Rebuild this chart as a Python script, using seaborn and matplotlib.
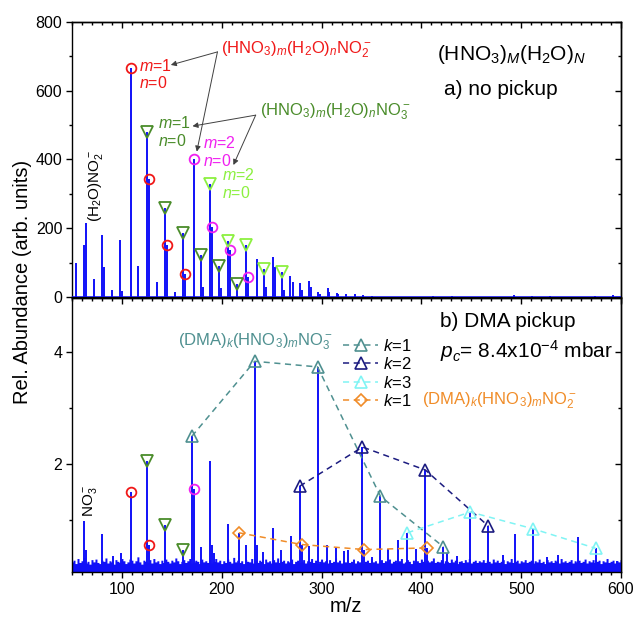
import matplotlib
matplotlib.use("Agg")
import matplotlib.pyplot as plt
from matplotlib.ticker import MultipleLocator
import numpy as np
import seaborn as sns

sns.set_theme(style="ticks", rc={"axes.edgecolor": "black", "text.color": "black",
                                 "xtick.color": "black", "ytick.color": "black",
                                 "axes.labelcolor": "black", "axes.linewidth": 1.0})
plt.rcParams["font.family"] = ["Liberation Sans", "DejaVu Sans"]
plt.rcParams["mathtext.fontset"] = "custom"
plt.rcParams["mathtext.rm"] = "Liberation Sans"
plt.rcParams["mathtext.it"] = "Liberation Sans:italic"
plt.rcParams["mathtext.bf"] = "Liberation Sans:bold"

# ---- a) no pickup : stick spectrum (m/z, counts)
top_mz = [54, 62, 64, 72, 80, 82, 90, 98, 100, 109, 116, 125, 127, 135, 143, 145, 153, 161, 163, 172,
          179, 181, 188, 190, 197, 199, 206, 208, 215, 224, 226, 235, 242, 244, 251, 253, 260, 262, 268, 271,
          278, 280, 287, 289, 296, 298, 306, 307, 315, 316, 324, 333, 342, 351, 412, 431, 493, 511, 529, 574,
          592]
top_int = [98, 150, 215, 52, 179, 86, 20, 166, 16, 665, 91, 481, 343, 44, 260, 152, 15, 185, 68, 400,
           123, 30, 330, 203, 91, 25, 162, 137, 39, 152, 59, 111, 81, 30, 117, 86, 72, 20, 61, 45,
           40, 20, 47, 29, 15, 8, 26, 15, 13, 8, 10, 8, 6, 4, 3, 3, 6, 4, 3, 4,
           5]

# marked series, panel a
a_no2_m1_mz = [109, 127, 145, 163]
a_no2_m1_int = [665, 343, 152, 68]
a_no2_m2_mz = [172, 190, 208, 226]
a_no2_m2_int = [400, 203, 137, 59]
a_no3_m1_mz = [125, 143, 161, 179, 197, 215]
a_no3_m1_int = [481, 260, 185, 123, 91, 39]
a_no3_m2_mz = [188, 206, 224, 242, 260]
a_no3_m2_int = [330, 162, 152, 81, 72]

# ---- b) DMA pickup : stick spectrum (m/z, rel. abundance)
bot_mz = [62, 64, 80, 91, 99, 109, 125, 127, 143, 161, 170, 172, 179, 188, 190, 192, 206, 217, 224, 233,
          235, 241, 251, 259, 269, 278, 280, 287, 296, 305, 314, 322, 326, 341, 343, 351, 359, 367, 377, 386,
          395, 404, 406, 422, 426, 436, 449, 467, 482, 494, 512, 526, 537, 557, 575, 596]
bot_int = [0.98, 0.47, 0.75, 0.35, 0.40, 1.50, 2.05, 0.55, 0.90, 0.47, 2.49, 1.55, 0.52, 2.05, 0.56, 0.41,
           0.93, 0.77, 0.56, 3.83, 0.56, 0.43, 0.86, 0.46, 0.71, 1.60, 0.56, 0.53, 3.73, 0.55, 0.50, 0.45,
           0.46, 2.30, 0.47, 0.34, 1.42, 0.48, 0.64, 0.77, 0.48, 1.89, 0.50, 0.52, 0.41, 0.36, 1.14, 0.89,
           0.38, 0.74, 0.84, 0.34, 0.38, 0.70, 0.49, 0.27]

# noise floor of panel b, every 2 m/z from 50 to 600 (in 1/100 units)
noise_level = [
    25, 28, 22, 31, 24, 27, 33, 23, 26, 21, 29, 25, 30, 24, 22, 28, 26, 32, 23, 27, 25, 21, 29,
    26, 24, 31, 27, 22, 25, 30, 28, 23, 27, 34, 25, 21, 28, 26, 24, 29, 23, 31, 25, 27, 22, 28,
    24, 30, 26, 23, 28, 25, 32, 27, 22, 26, 29, 24, 27, 31, 23, 25, 28, 26, 22, 30, 25, 27, 24,
    29, 23, 26, 31, 25, 28, 22, 27, 24, 30, 26, 23, 33, 25, 28, 24, 27, 22, 29, 26, 25, 31, 23,
    27, 24, 28, 26, 22, 30, 25, 27, 23, 29, 25, 32, 24, 26, 28, 23, 27, 25, 30, 22, 26, 28, 24,
    25, 29, 23, 27, 26, 31, 24, 28, 22, 26, 30, 25, 27, 23, 29, 24, 26, 32, 25, 28, 23, 27, 25,
    28, 24, 26, 30, 23, 27, 25, 29, 22, 26, 28, 24, 31, 25, 27, 23, 26, 29, 24, 27, 25, 30, 23,
    26, 28, 24, 27, 31, 23, 25, 29, 26, 22, 28, 25, 27, 24, 30, 26, 23, 28, 25, 27, 32, 24, 26,
    25, 29, 23, 27, 26, 24, 30, 25, 28, 22, 26, 27, 24, 29, 25, 31, 23, 26, 28, 24, 27, 25, 29,
    24, 27, 26, 23, 30, 25, 28, 24, 26, 29, 22, 27, 25, 31, 24, 26, 28, 23, 27, 25, 29, 24, 26,
    28, 23, 27, 25, 30, 24, 26, 22, 29, 25, 27, 24, 28, 26, 23, 31, 25, 27, 24, 26, 29, 23, 27,
    25, 28, 24, 26, 30, 23, 27, 25, 29, 24, 26, 28, 22, 27, 25, 31, 24, 26, 28, 23, 27, 25, 29]
noise_mz = np.arange(50, 601, 2)

# marked series, panel b
b_no2_m1_mz = [109, 127]
b_no2_m1_int = [1.50, 0.55]
b_no3_m1_mz = [125, 143, 161]
b_no3_m1_int = [2.05, 0.90, 0.47]
b_no2_m2_mz = [172]
b_no2_m2_int = [1.55]
k1_mz = [170, 233, 296, 359, 422]
k1_int = [2.49, 3.83, 3.73, 1.42, 0.52]
k2_mz = [278, 341, 404, 467]
k2_int = [1.60, 2.30, 1.89, 0.89]
k3_mz = [386, 449, 512, 575]
k3_int = [0.77, 1.14, 0.84, 0.49]
k1_no2_mz = [217, 280, 343, 406]
k1_no2_int = [0.77, 0.56, 0.47, 0.50]

BLUE = "#1010f8"
RED = "#f01818"
MAGENTA = "#f020f0"
DKGREEN = "#4a8c2a"
LTGREEN = "#8cf040"
TEAL = "#4f9090"
NAVY = "#1c1c80"
CYAN = "#80f4f4"
ORANGE = "#f08c28"
DASH = (0, (4, 3))


def open_markers(ax, x, y, marker, color, size):
    sns.lineplot(x=x, y=y, ax=ax, marker=marker, linestyle="none", mfc="none", mec=color,
                 ms=size, mew=1.3, errorbar=None, zorder=4)


def style_axis(ax, ymajor, yminor):
    ax.xaxis.set_major_locator(MultipleLocator(100))
    ax.xaxis.set_minor_locator(MultipleLocator(10))
    ax.yaxis.set_major_locator(MultipleLocator(ymajor))
    ax.yaxis.set_minor_locator(MultipleLocator(yminor))
    ax.tick_params(which="both", direction="out", labelsize=11.5, width=1.0, pad=3)
    ax.tick_params(which="major", length=4)
    ax.tick_params(which="minor", length=2.2)
    top = ax.secondary_xaxis("top")
    top.xaxis.set_major_locator(MultipleLocator(100))
    top.xaxis.set_minor_locator(MultipleLocator(10))
    top.tick_params(which="both", direction="in", labeltop=False, width=1.0)
    top.tick_params(which="major", length=4)
    top.tick_params(which="minor", length=2.2)
    right = ax.secondary_yaxis("right")
    right.yaxis.set_major_locator(MultipleLocator(ymajor))
    right.yaxis.set_minor_locator(MultipleLocator(yminor))
    right.tick_params(which="both", direction="in", labelright=False, width=1.0)
    right.tick_params(which="major", length=4)
    right.tick_params(which="minor", length=2.2)


fig = plt.figure(figsize=(6.35, 6.23), dpi=100)
ax1 = fig.add_axes([0.1134, 0.5233, 0.8646, 0.4414])
ax2 = fig.add_axes([0.1134, 0.0819, 0.8646, 0.4398], sharex=ax1)

# ---------------- panel a
ax1.vlines(top_mz, 0, top_int, color=BLUE, lw=1.4)
ax1.axhline(0, color=BLUE, lw=1.8, zorder=3)
open_markers(ax1, a_no2_m1_mz, a_no2_m1_int, "o", RED, 7)
open_markers(ax1, a_no2_m2_mz, a_no2_m2_int, "o", MAGENTA, 7)
open_markers(ax1, a_no3_m1_mz, a_no3_m1_int, "v", DKGREEN, 8)
open_markers(ax1, a_no3_m2_mz, a_no3_m2_int, "v", LTGREEN, 8)
ax1.set_xlim(50, 600)
ax1.set_ylim(0, 800)
style_axis(ax1, 200, 100)
ax1.tick_params(axis="x", labelbottom=False)

ax1.text(199, 718, r"(HNO$_3$)$_m$(H$_2$O)$_n$NO$_2^-$", color=RED, fontsize=12, va="center")
ax1.text(238, 538, r"(HNO$_3$)$_m$(H$_2$O)$_n$NO$_3^-$", color=DKGREEN, fontsize=12, va="center")
arrow = dict(arrowstyle="-|>", color="#404040", lw=0.7, mutation_scale=8, shrinkA=0, shrinkB=0)
ax1.annotate("", xy=(149, 675), xytext=(195.7, 713), arrowprops=arrow)
ax1.annotate("", xy=(175, 423), xytext=(195.7, 713), arrowprops=arrow)
ax1.annotate("", xy=(170.7, 497), xytext=(234, 529), arrowprops=arrow)
ax1.annotate("", xy=(211.7, 384), xytext=(234, 529), arrowprops=arrow)
for x, y1, y2, c in [(117, 672, 622, RED), (135.7, 507, 455, DKGREEN),
                     (181.7, 447, 397, MAGENTA), (200.7, 355, 302, LTGREEN)]:
    ax1.text(x, y1, r"$m$=1" if x < 150 else r"$m$=2", color=c, fontsize=11.5, va="center")
    ax1.text(x, y2, r"$n$=0", color=c, fontsize=11.5, va="center")
ax1.text(74, 323, r"(H$_2$O)NO$_2^-$", rotation=90, fontsize=11, ha="center", va="center")
ax1.text(490.7, 704, r"(HNO$_3$)$_M$(H$_2$O)$_N$", fontsize=15, ha="center", va="center")
ax1.text(479.5, 605, "a) no pickup", fontsize=15, ha="center", va="center")

# ---------------- panel b
ax2.fill_between(noise_mz, 0, np.array(noise_level) / 100, step="mid", color=BLUE, lw=0)
ax2.vlines(bot_mz, 0, bot_int, color=BLUE, lw=1.4)
open_markers(ax2, b_no2_m1_mz, b_no2_m1_int, "o", RED, 7)
open_markers(ax2, b_no2_m2_mz, b_no2_m2_int, "o", MAGENTA, 7)
open_markers(ax2, b_no3_m1_mz, b_no3_m1_int, "v", DKGREEN, 8)
for x, y, c, m, ms in [(k1_mz, k1_int, TEAL, "^", 8), (k2_mz, k2_int, NAVY, "^", 8),
                       (k3_mz, k3_int, CYAN, "^", 8), (k1_no2_mz, k1_no2_int, ORANGE, "D", 6.5)]:
    lab = r"$k$=1" if c in (TEAL, ORANGE) else (r"$k$=2" if c == NAVY else r"$k$=3")
    sns.lineplot(x=x, y=y, ax=ax2, color=c, marker=m, linestyle=DASH, lw=1.1, mfc="none",
                 mec=c, ms=ms, mew=1.2, label=lab, errorbar=None, zorder=4)
ax2.set_xlim(50, 600)
ax2.set_ylim(0.07, 4.96)
style_axis(ax2, 2, 1)
ax2.legend(loc="upper left", bbox_to_anchor=(0.494, 0.855), frameon=False, fontsize=12,
           handlelength=2.1, handletextpad=0.3, labelspacing=0.15, borderpad=0, borderaxespad=0)

ax2.text(68.5, 1.34, r"NO$_3^-$", rotation=90, fontsize=11, ha="center", va="center")
ax2.text(155.7, 4.18, r"(DMA)$_k$(HNO$_3$)$_m$NO$_3^-$", color=TEAL, fontsize=12, va="center")
ax2.text(400.7, 3.12, r"(DMA)$_k$(HNO$_3$)$_m$NO$_2^-$", color=ORANGE, fontsize=12, va="center")
ax2.text(419, 4.54, "b) DMA pickup", fontsize=15, va="center")
ax2.text(419, 4.02, r"$p_c$= 8.4x10$^{-4}$ mbar", fontsize=15, va="center")

fig.text(23 / 635, 1 - 281.5 / 623, "Rel. Abundance (arb. units)", rotation=90, fontsize=14.5,
         ha="center", va="center")
fig.text(346 / 635, 1 - 606 / 623, "m/z", fontsize=14.5, ha="center", va="center")

fig.savefig("out.png", dpi=100)
